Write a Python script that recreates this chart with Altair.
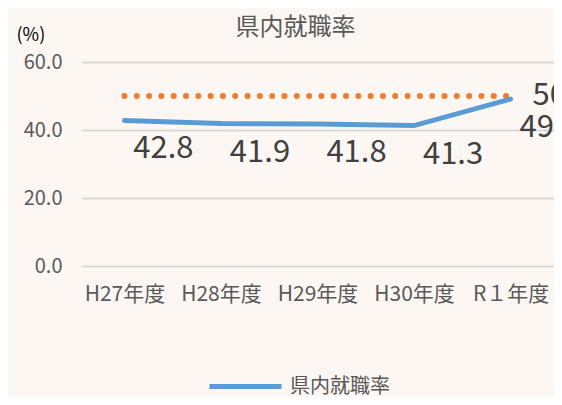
import altair as alt
import pandas as pd

categories = ["H27年度", "H28年度", "H29年度", "H30年度", "R１年度"]
rates = [42.8, 41.9, 41.8, 41.3, 49.1]
targets = [50, 50, 50, 50, 50]
series_name = "県内就職率"
y_ticks = [0, 20, 40, 60]

df = pd.DataFrame({
    "cat": categories,
    "rate": rates,
    "target": targets,
    "series": [series_name] * len(categories),
})

FONT = "Noto Sans CJK JP"
GREY = "#595959"

x_enc = alt.X(
    "cat:N", sort=categories,
    scale=alt.Scale(type="point", padding=0.45),
    axis=alt.Axis(title=None, labelAngle=0, labelFontSize=21, labelColor=GREY,
                  labelFont=FONT, labelPadding=17, domain=False, ticks=False, grid=False),
)
y_enc = alt.Y(
    "rate:Q",
    scale=alt.Scale(domain=[0, 60], nice=False, zero=True),
    axis=alt.Axis(values=y_ticks, format=".1f", labelFontSize=20, labelColor=GREY,
                  labelFont=FONT, labelPadding=19, ticks=False, tickSize=0, domain=False,
                  grid=True, gridColor="#D9D9D9", gridWidth=2,
                  title="(%)", titleAngle=0, titleAlign="left", titleBaseline="middle",
                  titleX=-65, titleY=-27, titleFontSize=18, titleFontWeight="normal",
                  titleColor="#000000", titleFont=FONT),
)

base = alt.Chart(df)

target_line = base.mark_line(
    color="#ED7D31", strokeWidth=6, strokeDash=[0.01, 12.3], strokeCap="round"
).encode(x=x_enc, y=alt.Y("target:Q", scale=alt.Scale(domain=[0, 60], nice=False)))

rate_line = base.mark_line(strokeWidth=5, strokeCap="round").encode(
    x=x_enc,
    y=y_enc,
    color=alt.Color(
        "series:N",
        scale=alt.Scale(domain=[series_name], range=["#5B9BD5"]),
        legend=alt.Legend(title=None, orient="none", legendX=126, legendY=286,
                          symbolType="stroke", symbolSize=5184, symbolStrokeWidth=5,
                          labelFontSize=20, labelColor=GREY, labelFont=FONT,
                          labelOffset=6),
    ),
)

rate_labels = base.mark_text(
    dx=39, dy=29, fontSize=31, color="#404040", font=FONT
).encode(x=x_enc, y="rate:Q", text=alt.Text("rate:Q", format=".1f"))

target_label = base.mark_text(
    align="left", dx=22, fontSize=31, color="#404040", font=FONT
).transform_filter(
    alt.datum.cat == categories[-1]
).encode(x=x_enc, y="target:Q", text=alt.Text("target:Q", format="d"))

chart = alt.layer(target_line, rate_line, rate_labels, target_label).properties(
    width=473,
    height=204,
    padding={"left": 73, "top": 54, "right": 0, "bottom": 131},
    autosize=alt.AutoSizeParams(type="none"),
    background="#FCF7F2",
    title=alt.TitleParams(series_name, fontSize=24, color=GREY, font=FONT,
                          fontWeight="normal", anchor="middle", frame="group",
                          dx=-22, dy=42, offset=28),
).configure_view(stroke=None)

chart.save("out.html", embed_options={"renderer": "svg", "actions": False})
